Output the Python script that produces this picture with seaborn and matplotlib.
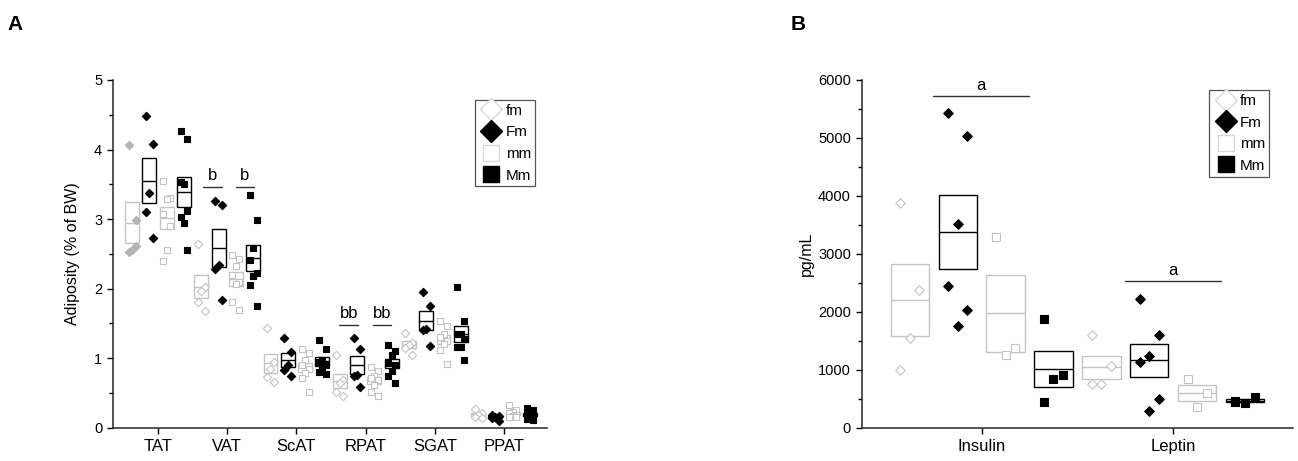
import numpy as np
import pandas as pd
import matplotlib
matplotlib.use("Agg")
import matplotlib.pyplot as plt
from matplotlib.lines import Line2D
from matplotlib.ticker import MultipleLocator
import seaborn as sns

sns.set_style("ticks")
plt.rcParams['font.family'] = ['Liberation Sans', 'DejaVu Sans']
plt.rcParams['text.color'] = 'black'
plt.rcParams['axes.labelcolor'] = 'black'
plt.rcParams['xtick.color'] = 'black'
plt.rcParams['ytick.color'] = 'black'

# ---------------- data ----------------
groups = ['fm', 'Fm', 'mm', 'Mm']
tissues = ['TAT', 'VAT', 'ScAT', 'RPAT', 'SGAT', 'PPAT']
hormones = ['Insulin', 'Leptin']

# adiposity (% of BW) per group and depot
adip_fm = {'TAT': [4.07, 2.98, 2.55, 2.52, 2.62],
           'VAT': [2.64, 2.03, 1.96, 1.81, 1.68],
           'ScAT': [1.44, 0.95, 0.85, 0.73, 0.66],
           'RPAT': [1.04, 0.68, 0.64, 0.52, 0.46],
           'SGAT': [1.36, 1.22, 1.19, 1.15, 1.04],
           'PPAT': [0.27, 0.21, 0.19, 0.16, 0.14]}
adip_Fm = {'TAT': [4.48, 4.08, 3.37, 3.10, 2.73],
           'VAT': [3.26, 3.20, 2.34, 2.28, 1.84],
           'ScAT': [1.29, 1.09, 0.90, 0.83, 0.75],
           'RPAT': [1.29, 1.13, 0.76, 0.74, 0.59],
           'SGAT': [1.95, 1.75, 1.42, 1.41, 1.17],
           'PPAT': [0.19, 0.17, 0.16, 0.14, 0.09]}
adip_mm = {'TAT': [3.55, 3.31, 3.29, 3.08, 2.90, 2.56, 2.40],
           'VAT': [2.48, 2.42, 2.33, 2.20, 2.10, 2.06, 1.81, 1.69],
           'ScAT': [1.13, 1.07, 0.97, 0.90, 0.85, 0.78, 0.71, 0.52],
           'RPAT': [0.88, 0.82, 0.75, 0.72, 0.68, 0.62, 0.52, 0.45],
           'SGAT': [1.54, 1.46, 1.35, 1.30, 1.25, 1.20, 1.12, 0.92],
           'PPAT': [0.33, 0.25, 0.22, 0.21, 0.19, 0.17, 0.16, 0.15]}
adip_Mm = {'TAT': [4.26, 4.15, 3.51, 3.54, 3.11, 2.95, 3.03, 2.56],
           'VAT': [3.34, 2.98, 2.59, 2.41, 2.22, 2.18, 2.05, 1.75],
           'ScAT': [1.26, 1.13, 0.98, 0.94, 0.90, 0.85, 0.80, 0.77],
           'RPAT': [1.19, 1.10, 1.05, 0.93, 0.90, 0.81, 0.75, 0.65],
           'SGAT': [2.03, 1.53, 1.35, 1.35, 1.27, 1.16, 1.16, 0.97],
           'PPAT': [0.28, 0.26, 0.24, 0.20, 0.17, 0.15, 0.12, 0.11]}

# plasma hormones (pg/mL)
horm_fm = {'Insulin': [3883, 2382, 1553, 995], 'Leptin': [1599, 1064, 754, 754]}
horm_Fm = {'Insulin': [5436, 5039, 3515, 2439, 2036, 1760],
           'Leptin': [2215, 1599, 1243, 1139, 495, 288]}
horm_mm = {'Insulin': [3296, 1369, 1248], 'Leptin': [834, 593, 351]}
horm_Mm = {'Insulin': [1881, 903, 845, 437], 'Leptin': [449, 524, 432, 466]}

# ---------------- styling ----------------
grey = '#c4c4c4'
offsets = {'fm': -0.375, 'Fm': -0.125, 'mm': 0.125, 'Mm': 0.375}
box_w = 0.2
jit = [-1, 1, 0]
style = {'fm': dict(marker='D', facecolor='white', edgecolor=grey, box=grey),
         'Fm': dict(marker='D', facecolor='black', edgecolor='black', box='black'),
         'mm': dict(marker='s', facecolor='white', edgecolor=grey, box=grey),
         'Mm': dict(marker='s', facecolor='black', edgecolor='black', box='black')}


def make_long(dicts, cats, js):
    rows = []
    for g, d in zip(groups, dicts):
        for c, vals in d.items():
            for i, v in enumerate(vals):
                x = cats.index(c) + offsets[g] + jit[i % 3] * js
                rows.append((c, g, v, x))
    return pd.DataFrame(rows, columns=['cat', 'group', 'value', 'xpos'])


def draw_panel(ax, df, cats, sizes):
    # boxes = mean +/- SEM, line = mean
    stats = df.groupby(['cat', 'group'])['value'].agg(['mean', 'sem']).reset_index()
    for _, r in stats.iterrows():
        x = cats.index(r['cat']) + offsets[r['group']]
        c = style[r['group']]['box']
        ax.bar(x, 2 * r['sem'], bottom=r['mean'] - r['sem'], width=box_w,
               fill=False, edgecolor=c, linewidth=1.0, zorder=2)
        ax.hlines(r['mean'], x - box_w / 2, x + box_w / 2, color=c, lw=1.0, zorder=2)
    for g in groups:
        st = style[g]
        sub = df[df['group'] == g]
        s = sizes[0] if st['marker'] == 'D' else sizes[1]
        if g == 'fm' and 'TAT' in cats:
            tat = sub[sub['cat'] == 'TAT']
            sns.scatterplot(data=tat, x='xpos', y='value', marker='D', s=s,
                            facecolor='#b4b4b4', edgecolor='#b4b4b4', linewidth=0.8,
                            ax=ax, zorder=3, legend=False)
            sub = sub[sub['cat'] != 'TAT']
        sns.scatterplot(data=sub, x='xpos', y='value', marker=st['marker'], s=s,
                        facecolor=st['facecolor'], edgecolor=st['edgecolor'], linewidth=0.8,
                        ax=ax, zorder=3, legend=False)
    ax.set_xticks(range(len(cats)))
    ax.set_xticklabels(cats, fontsize=12)
    ax.set_xlabel('')
    sns.despine(ax=ax)
    for sp in ['left', 'bottom']:
        ax.spines[sp].set_linewidth(1.1)
    ax.tick_params(axis='both', which='major', direction='out', length=4.3, width=1.0)
    ax.tick_params(axis='y', which='major', labelsize=10.5)
    ax.tick_params(axis='y', which='minor', direction='out', length=3, width=1.0)
    ax.tick_params(axis='x', which='minor', length=0)
    ax.grid(False)


def add_legend(ax, anchor):
    handles = []
    for g in groups:
        st = style[g]
        ms = 11 if st['marker'] == 'D' else 12
        handles.append(Line2D([], [], linestyle='none', marker=st['marker'], markersize=ms,
                              markerfacecolor=st['facecolor'],
                              markeredgecolor='#d8d8d8' if st['facecolor'] == 'white' else 'black',
                              markeredgewidth=1.0))
    leg = ax.legend(handles, groups, loc='upper right', bbox_to_anchor=anchor,
                    borderaxespad=0, fancybox=False, framealpha=1, fontsize=11,
                    handlelength=1.6, handletextpad=0.15, labelspacing=0.5,
                    borderpad=0.25, frameon=True)
    leg.get_frame().set_edgecolor('#555555')
    leg.get_frame().set_linewidth(0.9)


def sig(ax, x0, x1, y, ty, label):
    ax.plot([x0, x1], [y, y], color='#333333', lw=1.0)
    ax.text((x0 + x1) / 2, ty, label, ha='center', va='bottom', fontsize=12)


fig = plt.figure(figsize=(12.98, 4.61), dpi=100)
axA = fig.add_axes([0.0871, 0.0722, 0.3343, 0.7543])
axB = fig.add_axes([0.6639, 0.0722, 0.3322, 0.7543])

# ---------------- panel A ----------------
dfA = make_long([adip_fm, adip_Fm, adip_mm, adip_Mm], tissues, 0.05)
draw_panel(axA, dfA, tissues, (18, 20))
axA.set_xlim(-0.65, 5.62)
axA.set_ylim(0, 5)
axA.yaxis.set_major_locator(MultipleLocator(1))
axA.yaxis.set_minor_locator(MultipleLocator(0.5))
axA.set_ylabel('Adiposity (% of BW)', fontsize=11.5, labelpad=10)
sig(axA, 1 + offsets['Fm'] - 0.225, 1 + offsets['Fm'] + 0.045, 3.46, 3.52, 'b')
sig(axA, 1 + offsets['Mm'] - 0.255, 1 + offsets['Mm'] + 0.015, 3.46, 3.52, 'b')
sig(axA, 3 + offsets['Fm'] - 0.255, 3 + offsets['Fm'] + 0.015, 1.47, 1.53, 'bb')
sig(axA, 3 + offsets['Mm'] - 0.27, 3 + offsets['Mm'] - 0.015, 1.47, 1.53, 'bb')
add_legend(axA, (0.972, 0.943))

# ---------------- panel B ----------------
dfB = make_long([horm_fm, horm_Fm, horm_mm, horm_Mm], hormones, 0.05)
draw_panel(axB, dfB, hormones, (24, 26))
axB.set_xlim(-0.626, 1.625)
axB.set_ylim(0, 6000)
axB.yaxis.set_major_locator(MultipleLocator(1000))
axB.yaxis.set_minor_locator(MultipleLocator(500))
axB.set_ylabel('pg/mL', fontsize=11.5, labelpad=3)
sig(axB, -0.256, 0.248, 5729, 5780, 'a')
sig(axB, 1 - 0.252, 1 + 0.25, 2537, 2590, 'a')
add_legend(axB, (0.945, 0.971))

fig.text(0.006, 0.935, 'A', fontsize=15, fontweight='bold')
fig.text(0.609, 0.935, 'B', fontsize=15, fontweight='bold')

fig.savefig('out.png', dpi=100)
